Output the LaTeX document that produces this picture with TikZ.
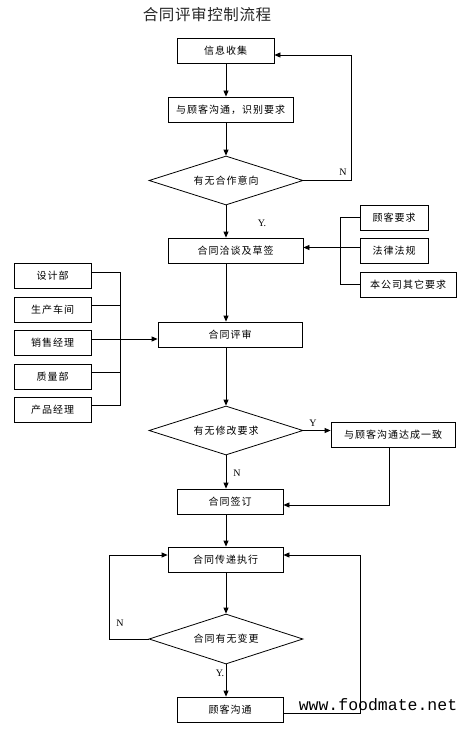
\documentclass[tikz,border=0pt]{standalone}
\usepackage{fontspec}
\setmainfont{Liberation Serif}
\newfontfamily\cjk[LetterSpace=10]{Noto Sans CJK SC}
\newfontfamily\cjktitle[LetterSpace=4]{Noto Sans CJK SC}
\newfontfamily\wmfont{Liberation Mono}
\usetikzlibrary{arrows.meta,shapes.geometric}
\begin{document}
\begin{tikzpicture}[x=1pt,y=-1pt,
  line width=0.8pt,
  box/.style={draw,rectangle,inner sep=0pt,minimum height=25pt,font=\cjk\fontsize{10}{12}\selectfont},
  dia/.style={draw,diamond,inner sep=0pt,aspect=3.1,minimum width=154pt,minimum height=49pt,font=\cjk\fontsize{10}{12}\selectfont},
  arr/.style={-{Triangle[length=6pt,width=5pt]}},
  lab/.style={font=\fontsize{10}{12}\selectfont,inner sep=0pt}]
\useasboundingbox (0,0) rectangle (468,733);
\fill[white] (0,0) rectangle (468,733);
\coordinate (ax) at (226,0);
\node[font=\cjktitle\fontsize{15.5}{18}\selectfont,inner sep=0pt,text=black!85] (title) at (207,15) {合同评审控制流程};
% main column
\node[box,minimum width=97pt] (b1) at (225.5,50.5) {信息收集};
\node[box,minimum width=125pt] (b2) at (230.5,109.5) {与顾客沟通，识别要求};
\node[dia] (d1) at (226,180.5) {有无合作意向};
\node[box,minimum width=135pt] (b3) at (235.5,250.5) {合同洽谈及草签};
\node[box,minimum width=144pt] (b4) at (230,334.5) {合同评审};
\node[dia] (d2) at (226,430.5) {有无修改要求};
\node[box,minimum width=106pt] (b5) at (230,501.5) {合同签订};
\node[box,minimum width=115pt] (b6) at (225.5,559.5) {合同传递执行};
\node[dia,minimum height=50pt] (d3) at (226,639) {合同有无变更};
\node[box,minimum width=106pt] (b7) at (230,709.5) {顾客沟通};
% right column
\node[box,minimum width=68pt] (r1) at (394,217.5) {顾客要求};
\node[box,minimum width=68pt] (r2) at (394,250.5) {法律法规};
\node[box,minimum width=96pt] (r3) at (408,284.5) {本公司其它要求};
\node[box,minimum width=124pt] (r4) at (393,434.5) {与顾客沟通达成一致};
% left column
\node[box,minimum width=77pt] (l1) at (52.5,275.5) {设计部};
\node[box,minimum width=77pt] (l2) at (52.5,309.5) {生产车间};
\node[box,minimum width=77pt] (l3) at (52.5,343) {销售经理};
\node[box,minimum width=77pt] (l4) at (52.5,376.5) {质量部};
\node[box,minimum width=77pt] (l5) at (52.5,409.5) {产品经理};
% vertical arrows
\draw[arr] (ax |- b1.south) -- (ax |- b2.north);
\draw[arr] (ax |- b2.south) -- (d1.north);
\draw[arr] (d1.south) -- (ax |- b3.north);
\draw[arr] (ax |- b3.south) -- (ax |- b4.north);
\draw[arr] (ax |- b4.south) -- (d2.north);
\draw[arr] (d2.south) -- (ax |- b5.north);
\draw[arr] (ax |- b5.south) -- (ax |- b6.north);
\draw[arr] (ax |- b6.south) -- (d3.north);
\draw[arr] (d3.south) -- (ax |- b7.north);
% loops
\draw[arr] (d1.east) -- ++(48,0) |- ([yshift=-4.5pt]b1.east);
\draw[arr] (d2.east) -- (d2.east -| r4.west);
\draw[arr] ([xshift=-4pt]r4.south) |- ([yshift=-3.5pt]b5.east);
\draw[arr] (d3.west) -- ++(-39,0) |- ([yshift=4.5pt]b6.west);
\draw[arr] ([yshift=-3.5pt]b7.east) -- ++(77,0) |- ([yshift=4.5pt]b6.east);
% right bracket
\draw (r1.west) -- ++(-19,0) |- (r3.west);
\draw[arr] ([yshift=3pt]r2.west) -- ([yshift=3pt]b3.east);
% left bracket
\draw ([yshift=3.5pt]l1.east) -- ++(29,0) |- ([yshift=4.5pt]l5.east);
\draw ([yshift=4.5pt]l2.east) -- ++(29,0);
\draw ([yshift=4.5pt]l4.east) -- ++(29,0);
\coordinate (l3o) at ([yshift=4pt]l3.east);
\draw[arr] (l3o) -- (b4.west |- l3o);
% labels
\node[lab] (n1) at (343,172) {N};
\node[lab] (y1) at (262,223) {Y.};
\node[lab] (y2) at (313,423) {Y};
\node[lab] (n2) at (237,473) {N};
\node[lab] (n3) at (120,623) {N};
\node[lab] (y3) at (220,673) {Y.};
\node[font=\wmfont\fontsize{16.5}{18}\selectfont,inner sep=0pt] (wm) at (378,705) {www.foodmate.net};
\end{tikzpicture}
\end{document}
